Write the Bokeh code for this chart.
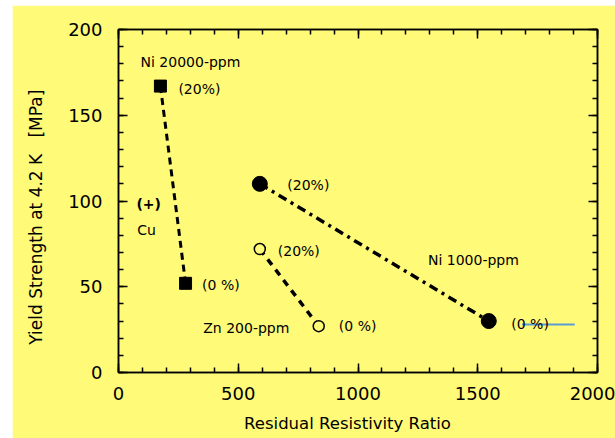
from bokeh.plotting import figure
from bokeh.models import LinearAxis, Range1d, FixedTicker
from bokeh.core.properties import value
from bokeh.embed import file_html
from bokeh.resources import INLINE

# ---- data ----
ni20000_rrr = [175, 280]
ni20000_ys = [167, 52]
ni1000_rrr = [590, 1546]
ni1000_ys = [110, 30]
zn200_rrr = [590, 836]
zn200_ys = [72, 27]
stray_rrr = [1685, 1905]
stray_ys = [28, 28]

x_ticks = [0, 500, 1000, 1500, 2000]
y_ticks = [0, 50, 100, 150, 200]

label_texts = ["Ni 20000-ppm", "(20%)", "(0 %)", "Cu",
               "(20%)", "Ni 1000-ppm", "(0 %)",
               "(20%)", "(0 %)", "Zn 200-ppm"]
label_x = [92, 250, 349, 78, 705, 1292, 1640, 665, 920, 354]
label_y = [181, 165.5, 51.3, 83, 109.6, 65.7, 28, 70.7, 27, 26]
bold_text = ["(+)"]
bold_x = [75]
bold_y = [98]

YELLOW = "#FFFA78"
FONT = "DejaVu Sans"
NB = "\u00a0"

p = figure(width=603, height=433, output_backend="svg", toolbar_location=None,
           x_range=Range1d(0, 2000), y_range=Range1d(0, 200),
           min_border_left=106, min_border_top=24, min_border_right=18,
           min_border_bottom=66)
p.margin = (5, 0, 0, 12)
p.background_fill_color = YELLOW
p.border_fill_color = YELLOW
p.outline_line_color = "black"
p.outline_line_width = 1.5
p.xgrid.visible = False
p.ygrid.visible = False

def style_axis(ax, show_labels, ticks):
    ax.axis_line_color = "black"
    ax.axis_line_width = 1.5
    ax.major_tick_in = 9
    ax.major_tick_out = 0
    ax.minor_tick_in = 5
    ax.minor_tick_out = 0
    ax.major_tick_line_width = 1.5
    ax.minor_tick_line_width = 1.5
    ax.major_tick_line_color = "black"
    ax.minor_tick_line_color = "black"
    if show_labels:
        ax.major_label_text_font = FONT
        ax.major_label_text_font_size = "18px"
        ax.major_label_text_color = "black"
        ax.axis_label_text_font = FONT
        ax.axis_label_text_font_size = "16.5px"
        ax.axis_label_text_font_style = "normal"
        ax.axis_label_text_color = "black"
    else:
        ax.major_label_overrides = {t: "" for t in ticks}
        ax.major_label_standoff = 0
        ax.axis_label = None

xt = FixedTicker(ticks=x_ticks, minor_ticks=list(range(0, 2001, 100)))
yt = FixedTicker(ticks=y_ticks, minor_ticks=list(range(0, 201, 10)))

p.xaxis.ticker = xt
p.yaxis.ticker = yt
p.xaxis.axis_label = "Residual Resistivity Ratio" + NB * 4
p.yaxis.axis_label = "Yield Strength at 4.2 K" + NB * 3 + "[MPa]" + NB * 6
style_axis(p.xaxis[0], True, x_ticks)
style_axis(p.yaxis[0], True, y_ticks)
p.yaxis.axis_label_text_font_size = "17px"
p.xaxis.major_label_standoff = 14
p.yaxis.major_label_standoff = 16
p.xaxis.axis_label_standoff = 11
p.yaxis.axis_label_standoff = 19

top = LinearAxis(ticker=xt)
right = LinearAxis(ticker=yt)
style_axis(top, False, x_ticks)
style_axis(right, False, y_ticks)
p.add_layout(top, "above")
p.add_layout(right, "right")

# lines
p.line(ni20000_rrr, ni20000_ys, line_color="black", line_width=3, line_dash="7 5")
p.line(ni1000_rrr, ni1000_ys, line_color="black", line_width=3.5, line_dash="9 5 3 5")
p.line(zn200_rrr, zn200_ys, line_color="black", line_width=3.5, line_dash="7 6")
p.line(stray_rrr, stray_ys, line_color="#5B9BD5", line_width=2)

# markers
p.scatter(ni20000_rrr, ni20000_ys, marker="square", size=12, fill_color="black", line_color="black")
p.scatter(ni1000_rrr, ni1000_ys, marker="circle", size=15, fill_color="black", line_color="black")
p.scatter(zn200_rrr, zn200_ys, marker="circle", size=11, fill_color=YELLOW, line_color="black", line_width=1.5)

# labels
p.text(label_x, label_y, text=label_texts, text_font=value(FONT), text_font_size="14px",
       text_baseline="middle", text_align="left", text_color="black")
p.text(bold_x, bold_y, text=bold_text, text_font=value(FONT), text_font_size="14px",
       text_font_style="bold", text_baseline="middle", text_align="left", text_color="black")

open("out.html", "w").write(file_html(p, INLINE))
